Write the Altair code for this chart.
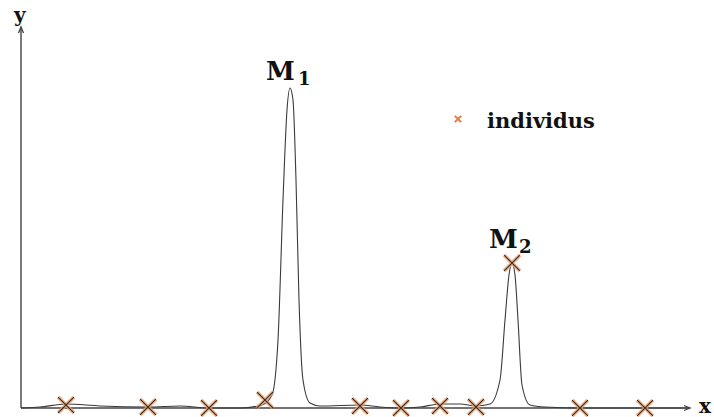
import altair as alt
import pandas as pd

# data units: origin at the axes' crossing, 1 unit = 1 pixel
curve_x = [0, 19, 45, 79, 127, 159, 188, 219, 241, 251, 257, 262, 266, 269, 272, 275, 278, 282, 289, 299,
           339, 359, 380, 399, 419, 439, 455, 469, 479, 484, 488, 491, 494, 497, 501, 509, 524, 559, 624, 669]
curve_y = [0, 1, 4, 2, 1, 2, 0, 0, 3, 13, 68, 208, 298, 320, 308, 228, 108, 28, 5, 2,
           3, 1, 0, 1, 4, 4, 2, 4, 28, 88, 133, 145, 133, 88, 23, 3, 1, 0, 0, 0]

pts_x = [45, 127, 188, 244, 339, 380, 419, 455, 491, 559, 624]
pts_y = [3, 1, 0, 8, 2, 0, 2, 1, 145, 0, 0]

axis_len_x = 669
axis_len_y = 381

labels_M = ["M", "M"]
labels_M_x = [245, 468]
labels_M_y = [328, 160]
labels_sub = ["1", "2"]
labels_sub_x = [277, 498]
labels_sub_y = [323, 155]

legend_label = "individus"

xs = alt.Scale(domain=[-21, 693], nice=False, zero=False)
ys = alt.Scale(domain=[-9, 408], nice=False, zero=False)

def X(f="x"):
    return alt.X(f"{f}:Q", scale=xs, axis=None)

def Y(f="y"):
    return alt.Y(f"{f}:Q", scale=ys, axis=None)

curve = pd.DataFrame({"x": curve_x, "y": curve_y})
pts = pd.DataFrame({"x": pts_x, "y": pts_y})

axes_df = pd.DataFrame({"x": [0, 0], "y": [0, 0], "x2": [axis_len_x, 0], "y2": [0, axis_len_y]})
axes = alt.Chart(axes_df).mark_rule(color="#444", strokeWidth=1.4).encode(
    x=X(), y=Y(), x2="x2:Q", y2="y2:Q")

arrow_up = alt.Chart(pd.DataFrame({"x": [0], "y": [axis_len_y]})).mark_point(
    shape="M-0.5,1.2L0,0L0.5,1.2", filled=False, color="#444", strokeWidth=1.3, size=100, opacity=1
).encode(x=X(), y=Y())
arrow_right = alt.Chart(pd.DataFrame({"x": [axis_len_x], "y": [0]})).mark_point(
    shape="M-1.2,-0.5L0,0L-1.2,0.5", filled=False, color="#444", strokeWidth=1.3, size=100, opacity=1
).encode(x=X(), y=Y())

line = alt.Chart(curve).mark_line(color="#3a3a3a", strokeWidth=1.1, interpolate="monotone").encode(
    x=X(), y=Y())

xshape = "M-1,-1L1,1M-1,1L1,-1"
orange = alt.Chart(pts).mark_point(shape=xshape, filled=False, color="#f2a06c", strokeWidth=3.8,
                                   size=250, opacity=0.8).encode(x=X(), y=Y())
black = alt.Chart(pts).mark_point(shape=xshape, filled=False, color="#2a2a2a", strokeWidth=1.1,
                                  size=250, opacity=1).encode(x=X(), y=Y())

font = "DejaVu Serif"
mdf = pd.DataFrame({"x": labels_M_x, "y": labels_M_y, "t": labels_M})
mtext = alt.Chart(mdf).mark_text(font=font, fontWeight="bold", fontSize=26, align="left",
                                 baseline="alphabetic", color="#111").encode(x=X(), y=Y(), text="t:N")
sdf = pd.DataFrame({"x": labels_sub_x, "y": labels_sub_y, "t": labels_sub})
stext = alt.Chart(sdf).mark_text(font=font, fontWeight="bold", fontSize=18, align="left",
                                 baseline="alphabetic", color="#111").encode(x=X(), y=Y(), text="t:N")

axis_lab = pd.DataFrame({"x": [-7, 678], "y": [386, -5], "t": ["y", "x"]})
alab = alt.Chart(axis_lab).mark_text(font=font, fontWeight="bold", fontSize=20, align="left",
                                     baseline="alphabetic", color="#111").encode(x=X(), y=Y(), text="t:N")

leg_mark = alt.Chart(pd.DataFrame({"x": [437], "y": [289]})).mark_point(
    shape=xshape, filled=False, color="#e07b45", strokeWidth=2, size=40, opacity=1).encode(x=X(), y=Y())
leg_text = alt.Chart(pd.DataFrame({"x": [466], "y": [280], "t": [legend_label]})).mark_text(
    font=font, fontWeight="bold", fontSize=21, align="left", baseline="alphabetic", color="#111"
).encode(x=X(), y=Y(), text="t:N")

chart = alt.layer(axes, arrow_up, arrow_right, line, orange, black, mtext, stext, alab, leg_mark, leg_text).properties(
    width=714, height=417, autosize=alt.AutoSizeParams(type="none"), padding=0, background="white"
).configure_view(stroke=None)

chart.save("out.html", embed_options={"renderer": "svg", "actions": False})
